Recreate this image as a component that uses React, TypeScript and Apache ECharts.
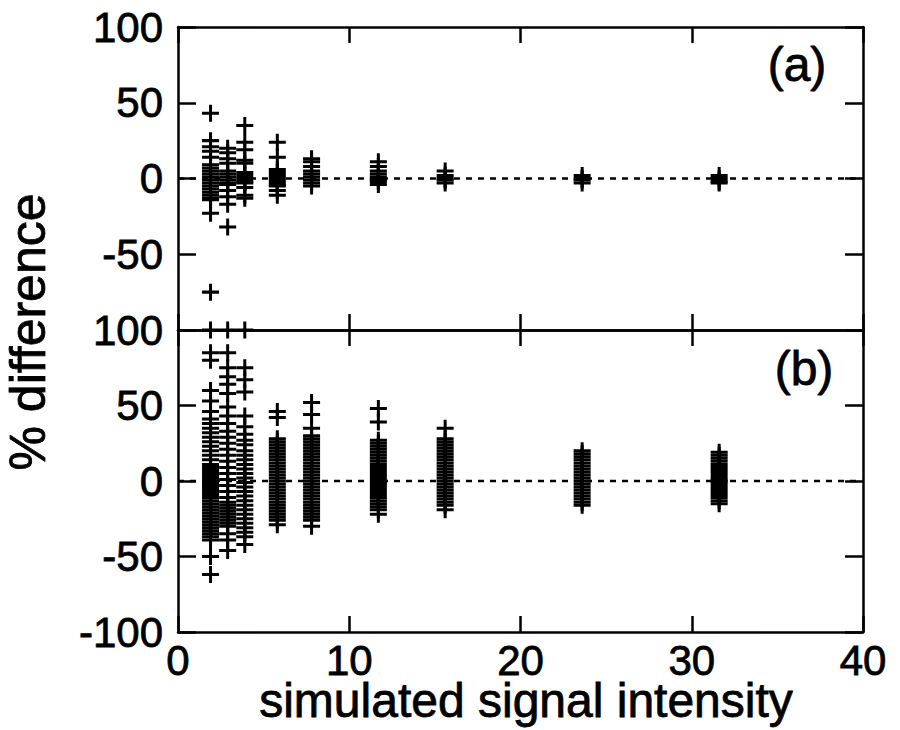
import React, { useEffect, useRef } from "react";
import * as echarts from "echarts";

// x positions (simulated signal intensity) of the measurement columns
const intensities = [1.9, 2.9, 3.9, 5.8, 7.8, 11.7, 15.6, 23.6, 31.6];

// panel (a): % difference per column
const a1 = [43, 25, 21, 18, 14, 9, 7, 5, 3, 1, -1, -3, -5, -7, -9, -11, -13, -14, -23, -75];
const a2 = [20, 17, 13, 10, 5, 3, 1, -1, -3, -4, -8, -12, -17, -32];
const a3 = [35, 24, 19, 12, 10, 4, 2, 0, -2, -3, -6, -11, -13];
const a4 = [24, 14, 6, 4, 2, 0, -2, -4, -5, -8, -11];
const a5 = [13, 11, 8, 5, 3, 1, -1, -3, -5];
const a6 = [11, 8, 5, 3, 1, 0, -1, -2, -4];
const a7 = [5, 2, 0, -1, -3];
const a8 = [2, 0, -1, -3];
const a9 = [2, 0, -2, -3];

// panel (b): % difference per column
const b1 = [100, 85, 80, 60, 53, 46, 41, 38, 35, 32, 29, 26, 23, 20, 17, 14, 11, 9, 7, 5, 3, 1, -1, -3, -5, -7, -9, -11, -13, -15, -17, -19, -21, -23, -25, -27, -29, -31, -33, -35, -37, -39, -50, -62];
const b2 = [100, 85, 75, 69, 64, 58, 49, 43, 38, 33, 29, 25, 21, 17, 13, 9, 5, 1, -3, -7, -11, -14, -16, -18, -20, -22, -24, -26, -28, -30, -35, -39, -46];
const b3 = [100, 75, 67, 59, 43, 36, 31, 27, 24, 20, 17, 14, 11, 8, 5, 2, -1, -4, -7, -10, -13, -16, -19, -22, -25, -28, -31, -34, -37, -42];
const b4 = [46, 42, 28, 26, 24, 22, 20, 18, 16, 14, 12, 10, 8, 6, 4, 2, 0, -2, -4, -6, -8, -10, -12, -14, -16, -18, -20, -22, -24, -26, -29];
const b5 = [52, 44, 35, 30, 28, 26, 24, 22, 20, 18, 16, 14, 12, 10, 8, 6, 4, 2, 0, -2, -4, -6, -8, -10, -12, -14, -16, -18, -20, -22, -24, -26, -30];
const b6 = [48, 39, 27, 25, 23, 21, 19, 17, 15, 13, 11, 9, 7, 5, 3, 1, -1, -3, -5, -7, -9, -11, -13, -15, -17, -19, -22];
const b7 = [35, 28, 26, 24, 22, 20, 18, 16, 14, 12, 10, 8, 6, 4, 2, 0, -2, -4, -6, -8, -10, -12, -14, -16, -19];
const b8 = [20, 18, 16, 14, 12, 10, 8, 6, 4, 2, 0, -2, -4, -6, -8, -10, -12, -14, -16];
const b9 = [19, 17, 15, 13, 11, 9, 7, 5, 3, 1, 0, -1, -3, -5, -7, -9, -11, -13, -15];

// zero reference line extent (x values)
const referenceLineX = [0, 40];

const xTicks = { min: 0, max: 40, interval: 10 };
const yTicks = { min: -100, max: 100, interval: 50 };

const panelA = [a1, a2, a3, a4, a5, a6, a7, a8, a9];
const panelB = [b1, b2, b3, b4, b5, b6, b7, b8, b9];

const FONT = "'Liberation Sans', Arial, Helvetica, sans-serif";
const CROSS = "path://M7,0H10V7H17V10H10V17H7V10H0V7H7Z";
const BLACK = "#000";

const labelInk = { textBorderColor: BLACK, textBorderWidth: 0.8 };

function xAxis(gridIndex: number, position: string, showLabels: boolean) {
  return {
    type: "value",
    gridIndex,
    position,
    ...xTicks,
    axisLine: { show: true, onZero: false, lineStyle: { color: BLACK, width: 2.5 } },
    axisTick: { show: true, inside: true, length: 16, lineStyle: { color: BLACK, width: 2.5 } },
    axisLabel: {
      show: showLabels,
      fontSize: 42,
      lineHeight: 34,
      fontFamily: FONT,
      color: BLACK,
      margin: 11,
      ...labelInk,
    },
    splitLine: { show: false },
  };
}

function yAxis(gridIndex: number, position: string, showLabels: boolean, hideMin: boolean) {
  return {
    type: "value",
    gridIndex,
    position,
    ...yTicks,
    axisLine: { show: true, onZero: false, lineStyle: { color: BLACK, width: 2.5 } },
    axisTick: { show: true, inside: true, length: 18, lineStyle: { color: BLACK, width: 2.5 } },
    axisLabel: {
      show: showLabels,
      fontSize: 42,
      lineHeight: 34,
      fontFamily: FONT,
      color: BLACK,
      margin: 15,
      ...labelInk,
      formatter: (v: number) => (hideMin && v === yTicks.min ? "" : String(v)),
    },
    splitLine: { show: false },
  };
}

function crossSeries(cols: number[][], axisIndex: number) {
  return {
    type: "scatter",
    xAxisIndex: axisIndex,
    yAxisIndex: axisIndex,
    symbol: CROSS,
    symbolSize: 17,
    itemStyle: { color: BLACK, opacity: 1 },
    z: 3,
    data: cols.flatMap((ys, i) => ys.map((y) => [intensities[i], y])),
  };
}

function zeroLine(axisIndex: number) {
  return {
    type: "line",
    xAxisIndex: axisIndex,
    yAxisIndex: axisIndex,
    symbol: "none",
    z: 2,
    lineStyle: { color: BLACK, width: 2.5, type: [6, 6] },
    data: referenceLineX.map((x) => [x, 0]),
  };
}

function textEl(text: string, x: number, y: number, size: number, rotation = 0) {
  return {
    type: "text",
    x,
    y,
    rotation,
    style: {
      text,
      fontSize: size,
      lineHeight: 40,
      fontFamily: FONT,
      fill: BLACK,
      stroke: BLACK,
      lineWidth: 0.8,
      align: "center",
      verticalAlign: "middle",
      textAlign: "center",
      textVerticalAlign: "middle",
    },
  };
}

export default function App() {
  const ref = useRef<HTMLDivElement>(null);
  useEffect(() => {
    if (!ref.current) return;
    const chart = echarts.init(ref.current, undefined, { renderer: "svg" });
    chart.setOption({
      animation: false,
      backgroundColor: "#fff",
      grid: [
        { left: 178, top: 27, width: 685, height: 303 },
        { left: 178, top: 330, width: 685, height: 302 },
      ],
      xAxis: [
        xAxis(0, "bottom", false),
        xAxis(1, "bottom", true),
        xAxis(0, "top", false),
        xAxis(1, "top", false),
      ],
      yAxis: [
        yAxis(0, "left", true, true),
        yAxis(1, "left", true, false),
        yAxis(0, "right", false, false),
        yAxis(1, "right", false, false),
      ],
      series: [
        zeroLine(0),
        zeroLine(1),
        crossSeries(panelA, 0),
        crossSeries(panelB, 1),
      ],
      graphic: [
        textEl("simulated signal intensity", 526, 700, 48),
        textEl("% difference", 28, 332, 50, Math.PI / 2),
        textEl("(a)", 797, 64, 48),
        textEl("(b)", 804, 368, 48),
      ],
    });
    return () => chart.dispose();
  }, []);
  return (
    <div
      ref={ref}
      style={{ position: "fixed", left: 0, top: 0, width: 900, height: 730, background: "#fff" }}
    />
  );
}
